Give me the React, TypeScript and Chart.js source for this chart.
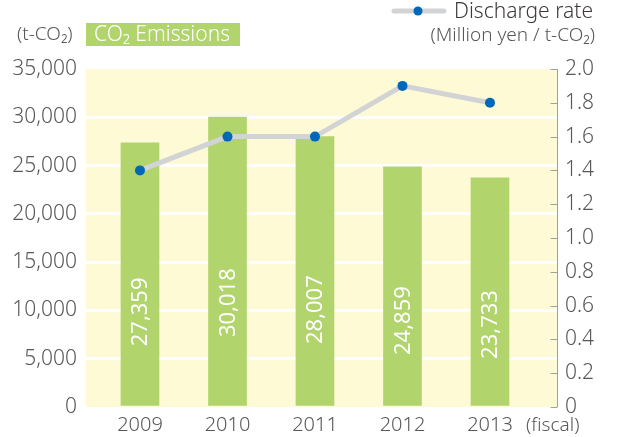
import React, { useEffect, useRef } from "react";
import { Chart, registerables } from "chart.js";

Chart.register(...registerables);

const years = ["2009", "2010", "2011", "2012", "2013"];
const emissions = [27359, 30018, 28007, 24859, 23733];
const dischargeRate = [1.4, 1.6, 1.6, 1.9, 1.8];
const leftTicks = [0, 5000, 10000, 15000, 20000, 25000, 30000, 35000];

const FONT = '"Noto Sans", "DejaVu Sans", sans-serif';
const W = "300";
const GREEN = "#b1d46c";
const BG = "#fefad6";
const TEXT = "#595757";
const DARK = "#3e3a39";
const LINE_GRAY = "#d1d3d4";
const BLUE = "#0068b7";

export default function App() {
  const ref = useRef<HTMLCanvasElement | null>(null);

  useEffect(() => {
    document.body.style.margin = "0";
    const canvas = ref.current;
    if (!canvas) return;

    const bgPlugin = {
      id: "bgPlugin",
      beforeDraw(chart: any) {
        const { ctx, chartArea } = chart;
        ctx.save();
        ctx.fillStyle = BG;
        ctx.fillRect(chartArea.left, chartArea.top, chartArea.right - chartArea.left, chartArea.bottom - chartArea.top);
        ctx.restore();
      },
    };

    const overlayPlugin = {
      id: "overlayPlugin",
      afterDatasetsDraw(chart: any) {
        const { ctx } = chart;
        const meta = chart.getDatasetMeta(0);
        const y = chart.scales.y;
        ctx.save();
        ctx.fillStyle = "#ffffff";
        ctx.font = `400 22px ${FONT}`;
        ctx.textAlign = "center";
        ctx.textBaseline = "middle";
        meta.data.forEach((bar: any, i: number) => {
          const cy = y.getPixelForValue(emissions[i] * 0.36);
          ctx.save();
          ctx.translate(bar.x, cy);
          ctx.rotate(-Math.PI / 2);
          ctx.fillText(emissions[i].toLocaleString("en-US"), 0, 1);
          ctx.restore();
        });
        ctx.restore();
      },
      afterDraw(chart: any) {
        const { ctx, chartArea } = chart;
        const y1 = chart.scales.y1;
        ctx.save();
        // right axis line with inward ticks
        ctx.strokeStyle = "#9fa0a0";
        ctx.lineWidth = 1;
        ctx.beginPath();
        const ax = Math.round(chartArea.right) + 0.5;
        ctx.moveTo(ax, chartArea.top);
        ctx.lineTo(ax, chartArea.bottom);
        y1.ticks.forEach((t: any) => {
          const py = Math.round(y1.getPixelForValue(t.value)) + 0.5;
          ctx.moveTo(ax - 7, py);
          ctx.lineTo(ax, py);
        });
        ctx.stroke();

        // left unit
        ctx.fillStyle = TEXT;
        ctx.textBaseline = "middle";
        ctx.textAlign = "left";
        ctx.font = `${W} 19px ${FONT}`;
        ctx.fillText("(t-CO\u2082)", 17, 35);

        // green legend box
        ctx.fillStyle = GREEN;
        ctx.fillRect(86, 23, 154, 23);
        ctx.fillStyle = "#ffffff";
        ctx.font = `${W} 21px ${FONT}`;
        ctx.fillText("CO\u2082 Emissions", 94, 35);

        // line legend
        ctx.strokeStyle = LINE_GRAY;
        ctx.lineWidth = 5;
        ctx.lineCap = "round";
        ctx.beginPath();
        ctx.moveTo(394, 11);
        ctx.lineTo(444, 11);
        ctx.stroke();
        ctx.fillStyle = BLUE;
        ctx.beginPath();
        ctx.arc(418, 11, 4.5, 0, Math.PI * 2);
        ctx.fill();
        ctx.fillStyle = DARK;
        ctx.font = `${W} 21px ${FONT}`;
        ctx.textAlign = "right";
        ctx.fillText("Discharge rate", 593, 12);
        ctx.fillStyle = TEXT;
        ctx.font = `${W} 19px ${FONT}`;
        ctx.fillText("(Million yen / t-CO\u2082)", 595, 36);

        // fiscal
        ctx.textAlign = "left";
        ctx.fillText("(fiscal)", 526, 426);
        ctx.restore();
      },
    };

    const chart = new Chart(canvas, {
      type: "bar",
      data: {
        datasets: [
          {
            type: "bar",
            label: "CO2 Emissions",
            data: emissions.map((v, i) => ({ x: i, y: v })),
            backgroundColor: GREEN,
            barThickness: 38,
            yAxisID: "y",
            xAxisID: "x",
            order: 1,
          } as any,
          {
            type: "line",
            label: "Discharge rate",
            data: dischargeRate.map((v, i) => ({ x: i, y: v })),
            borderColor: LINE_GRAY,
            borderWidth: 5,
            pointRadius: 5,
            pointBackgroundColor: BLUE,
            pointBorderWidth: 0,
            pointHoverRadius: 5,
            tension: 0,
            yAxisID: "y1",
            xAxisID: "x",
            order: 0,
          } as any,
        ],
      },
      options: {
        responsive: false,
        animation: false,
        events: [],
        layout: { padding: { top: 69, left: 0, right: 0, bottom: 0 } },
        plugins: { legend: { display: false }, tooltip: { enabled: false } },
        scales: {
          x: {
            type: "linear",
            offset: false,
            min: -0.617,
            max: 4.766,
            grid: { display: false, drawTicks: false, offset: false },
            border: { display: false },
            afterBuildTicks(scale: any) {
              scale.ticks = years.map((_, i) => ({ value: i }));
            },
            afterFit(scale: any) {
              scale.height = 30;
            },
            ticks: {
              padding: 6,
              color: TEXT,
              font: { family: FONT, size: 20, weight: W },
              callback: (v: any) => years[v as number] ?? "",
            },
          },
          y: {
            position: "left",
            min: 0,
            max: 35000,
            grid: {
              drawTicks: false,
              lineWidth: 3,
              color: (c: any) =>
                c.tick && (c.tick.value === 0 || c.tick.value === 35000) ? "rgba(0,0,0,0)" : "#ffffff",
            },
            border: { display: false },
            afterBuildTicks(scale: any) {
              scale.ticks = leftTicks.map((v) => ({ value: v }));
            },
            afterFit(scale: any) {
              scale.width = 86;
            },
            ticks: {
              padding: 9,
              color: TEXT,
              font: { family: FONT, size: 21, weight: W },
              callback: (v: any) => Number(v).toLocaleString("en-US"),
            },
          },
          y1: {
            position: "right",
            min: 0,
            max: 2,
            grid: { display: false, drawTicks: false },
            border: { display: false },
            afterFit(scale: any) {
              scale.width = 65;
            },
            ticks: {
              stepSize: 0.2,
              padding: 8,
              color: TEXT,
              font: { family: FONT, size: 21, weight: W },
              callback: (v: any) => (Number(v) === 0 ? "0" : Number(v).toFixed(1)),
            },
          },
        },
      } as any,
      plugins: [bgPlugin, overlayPlugin],
    });

    return () => chart.destroy();
  }, []);

  return (
    <div style={{ width: 622, height: 437 }}>
      <canvas ref={ref} width={622} height={437} style={{ display: "block" }} />
    </div>
  );
}
